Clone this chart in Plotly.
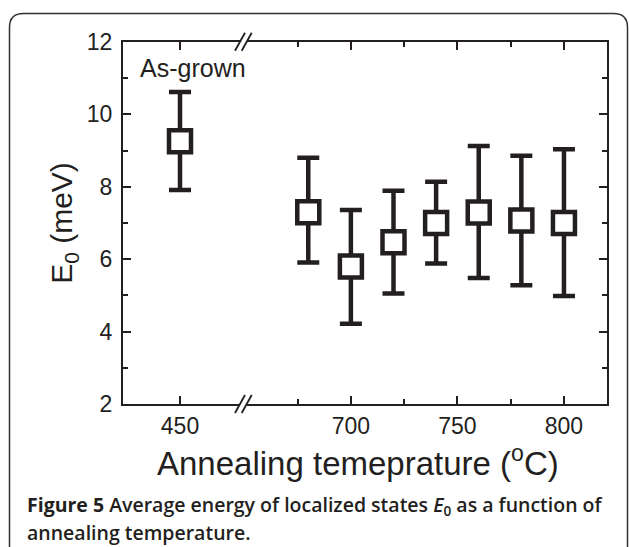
import plotly.graph_objects as go

# ---- data ----
grown_temp = [450]
grown_e0 = [9.26]
grown_hi = [10.62]
grown_lo = [7.91]

anneal_temp = [680, 700, 720, 740, 760, 780, 800]
anneal_e0 = [7.30, 5.80, 6.47, 7.00, 7.29, 7.07, 7.00]
anneal_hi = [8.80, 7.36, 7.89, 8.14, 9.13, 8.86, 9.04]
anneal_lo = [5.91, 4.22, 5.05, 5.88, 5.48, 5.28, 4.98]

x_ticks_left = [450]
x_ticks_right = [700, 750, 800]
y_ticks = [2, 4, 6, 8, 10, 12]

INK = "#231f20"
W, H = 629, 547
L, R, T, B = 123, 22, 42, 143
PW, PH = W - L - R, H - T - B


def fx(px):
    return (px - L) / PW


def fy(py):
    return (H - B - py) / PH


fig = go.Figure()

marker = dict(symbol="square", size=22, color="white", line=dict(color=INK, width=4.5))


def err(vals, hi, lo):
    return dict(type="data", symmetric=False,
                array=[h - v for h, v in zip(hi, vals)],
                arrayminus=[v - l for l, v in zip(lo, vals)],
                color=INK, thickness=4.5, width=11)


fig.add_trace(go.Scatter(x=grown_temp, y=grown_e0, mode="markers", marker=marker,
                         error_y=err(grown_e0, grown_hi, grown_lo),
                         xaxis="x", yaxis="y", showlegend=False))
fig.add_trace(go.Scatter(x=anneal_temp, y=anneal_e0, mode="markers", marker=marker,
                         error_y=err(anneal_e0, anneal_hi, anneal_lo),
                         xaxis="x2", yaxis="y2", showlegend=False))

font_ax = dict(family="Liberation Sans, Arial", size=23, color=INK)
common_x = dict(showline=True, linecolor=INK, linewidth=2, mirror="ticks", ticks="inside",
                ticklen=8, tickwidth=2, tickcolor=INK, showgrid=False, zeroline=False,
                tickfont=font_ax, ticklabelstandoff=0)

d1 = fx(240)
d2 = fx(246.7)
fig.update_layout(
    width=W, height=H, margin=dict(l=L, r=R, t=T, b=B),
    paper_bgcolor="white", plot_bgcolor="white",
    xaxis=dict(domain=[0, d1], range=[423.3, 478.1], tickvals=x_ticks_left, anchor="y", **common_x),
    xaxis2=dict(domain=[d2, 1], range=[651.1, 820.2], tickvals=x_ticks_right, anchor="y2",
                minor=dict(dtick=25, tick0=700, ticks="inside", ticklen=5, tickwidth=2, tickcolor=INK),
                **common_x),
    yaxis=dict(range=[2, 12], tickvals=y_ticks, anchor="x", showline=True, linecolor=INK, linewidth=2,
               ticks="inside", ticklen=8, tickwidth=2, tickcolor=INK, showgrid=False, zeroline=False,
               minor=dict(dtick=1, ticks="inside", ticklen=5, tickwidth=2, tickcolor=INK),
               tickfont=font_ax, ticklabelstandoff=4,
               title=dict(text="E<sub>0</sub> (meV)", font=dict(family="Liberation Sans, Arial", size=30, color=INK),
                          standoff=5)),
    yaxis2=dict(range=[2, 12], matches="y", anchor="x2", side="right", showline=True, linecolor=INK,
                linewidth=2, ticks="inside", ticklen=8, tickwidth=2, tickcolor=INK, showgrid=False,
                zeroline=False, showticklabels=False,
                minor=dict(dtick=1, ticks="inside", ticklen=5, tickwidth=2, tickcolor=INK)),
)

shapes = []
# outer rounded frame
rx, ry = 14 / PW, 14 / PH
x0, x1, yt, yb = fx(9.5), fx(627.5), fy(13.5), fy(560)
shapes.append(dict(type="path", xref="paper", yref="paper",
                   path=f"M {x0},{yb} L {x0},{yt - ry} Q {x0},{yt} {x0 + rx},{yt} L {x1 - rx},{yt} "
                        f"Q {x1},{yt} {x1},{yt - ry} L {x1},{yb}",
                   line=dict(color="#333333", width=1.5), layer="above"))
# axis break marks
for yc in (41.7, 404):
    for xs in (235, 241.7):
        shapes.append(dict(type="line", xref="paper", yref="paper",
                           x0=fx(xs), y0=fy(yc + 9), x1=fx(xs + 10), y1=fy(yc - 9),
                           line=dict(color=INK, width=1.8), layer="above"))
fig.update_layout(shapes=shapes)

fig.add_annotation(x=430.5, y=11.28, xref="x", yref="y", text="As-grown", showarrow=False,
                   xanchor="left", yanchor="middle",
                   font=dict(family="Liberation Sans, Arial", size=25, color=INK))
fig.add_annotation(x=fx(358), y=fy(461), xref="paper", yref="paper",
                   text="Annealing temeprature (<sup>o</sup>C)", showarrow=False,
                   xanchor="center", yanchor="middle",
                   font=dict(family="Liberation Sans, Arial", size=33, color=INK))
cap_font = dict(family="Open Sans", size=19.5, color=INK, weight=600)
fig.add_annotation(x=fx(25), y=fy(505), xref="paper", yref="paper",
                   text="<b>Figure 5</b> Average energy of localized states <i>E</i><sub>0</sub> as a function of",
                   showarrow=False, xanchor="left", yanchor="middle", font=cap_font)
fig.add_annotation(x=fx(25), y=fy(532), xref="paper", yref="paper",
                   text="annealing temperature.", showarrow=False, xanchor="left", yanchor="middle",
                   font=cap_font)

fig.write_html("out.html", config={"displayModeBar": False},
               post_script="document.body.style.margin='0';document.body.style.overflow='hidden';")
